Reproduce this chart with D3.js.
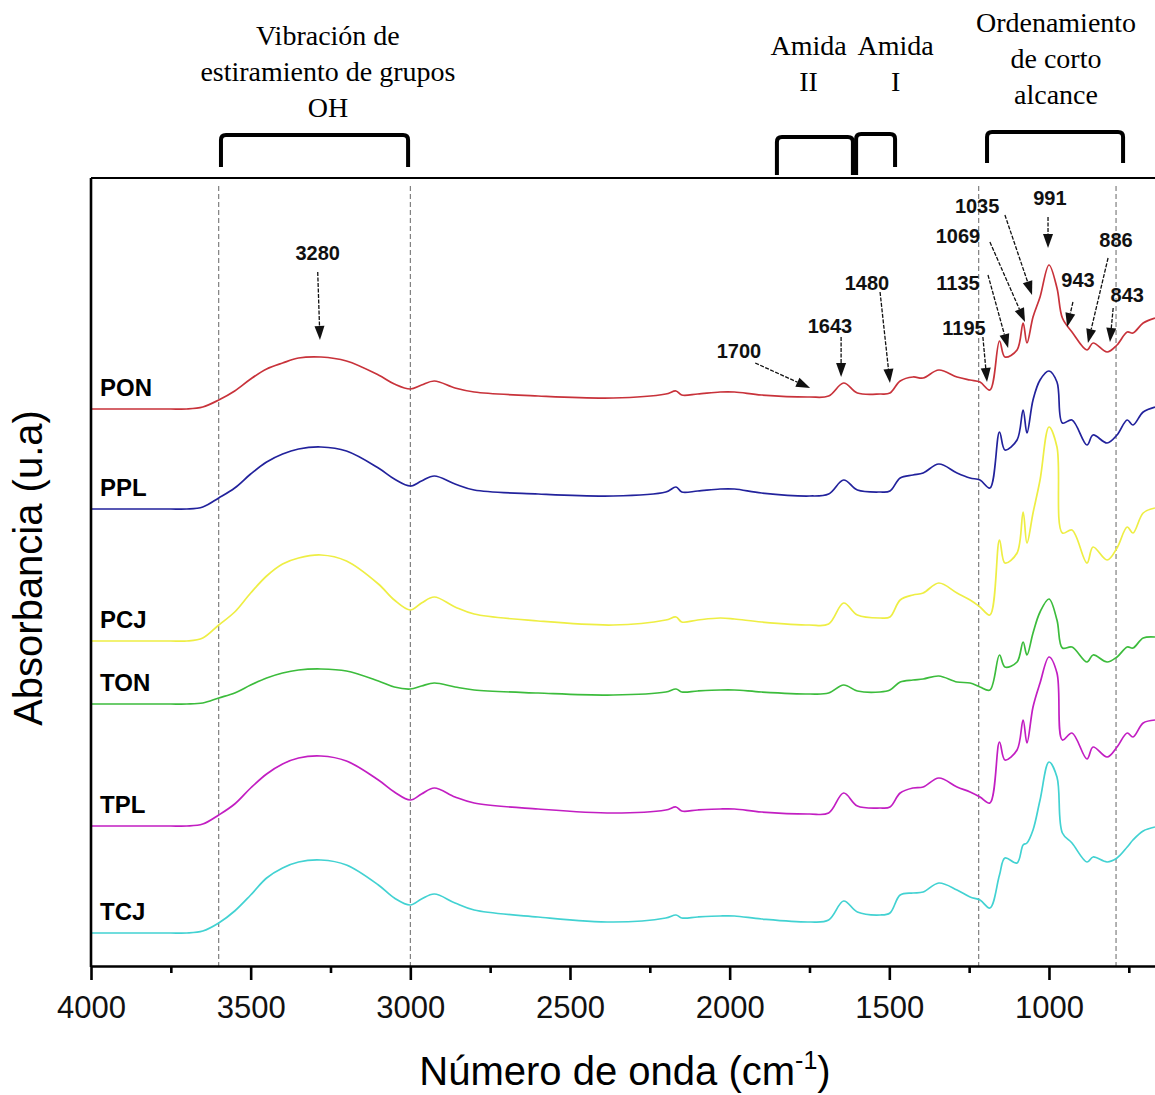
<!DOCTYPE html>
<html>
<head>
<meta charset="utf-8">
<script src="https://cdn.jsdelivr.net/npm/d3@7"></script>
<style>
 body{margin:0;background:#fff}
 svg{display:block}
</style>
</head>
<body>
<svg class="grafico" width="1155" height="1095"></svg>
<script>
/*DATOS - número de onda (cm-1) comunes a todos los espectros*/
const numeroOnda = [4000,3800,3750,3700,3650,3600,3550,3500,3450,3400,3350,3280,3200,3100,3050,3000,2965,2925,2860,2800,2600,2365,2200,2168,2150,2100,2030,1985,1900,1750,1690,1643,1600,1529,1498,1466,1426,1394,1345,1288,1247,1216,1185,1155,1138,1100,1081,1069,1050,1028,1000,975,958,928,881,862,818,787,755,737,705,668]

/*absorbancia (u.a) de cada muestra, ya desplazada*/
const PON = [5.57,5.57,5.57,5.57,5.59,5.66,5.75,5.87,5.97,6.03,6.08,6.09,6.05,5.91,5.82,5.77,5.81,5.85,5.78,5.74,5.70,5.68,5.72,5.75,5.71,5.72,5.74,5.74,5.71,5.69,5.70,5.83,5.73,5.72,5.73,5.85,5.89,5.88,5.96,5.89,5.86,5.84,5.76,6.25,6.09,6.16,6.43,6.23,6.49,6.69,7.01,6.78,6.48,6.34,6.16,6.23,6.14,6.21,6.34,6.33,6.43,6.48]
const PPL = [4.57,4.57,4.57,4.57,4.59,4.68,4.78,4.92,5.04,5.12,5.17,5.19,5.15,4.98,4.87,4.80,4.85,4.90,4.82,4.76,4.72,4.70,4.74,4.79,4.74,4.75,4.77,4.77,4.73,4.70,4.72,4.86,4.76,4.74,4.75,4.88,4.91,4.93,5.02,4.93,4.88,4.86,4.78,5.34,5.16,5.26,5.56,5.33,5.66,5.86,5.95,5.84,5.43,5.46,5.21,5.31,5.23,5.31,5.46,5.41,5.54,5.59]
const PCJ = [3.25,3.25,3.25,3.25,3.28,3.41,3.54,3.73,3.90,4.02,4.08,4.11,4.05,3.82,3.66,3.56,3.63,3.69,3.59,3.52,3.45,3.41,3.46,3.49,3.44,3.46,3.48,3.47,3.44,3.41,3.42,3.63,3.51,3.48,3.49,3.66,3.71,3.73,3.83,3.73,3.66,3.59,3.51,4.26,4.03,4.13,4.54,4.23,4.53,4.86,5.39,5.19,4.33,4.36,4.03,4.19,4.06,4.18,4.39,4.33,4.53,4.58]
const TON = [2.62,2.62,2.62,2.62,2.63,2.68,2.73,2.81,2.88,2.93,2.96,2.97,2.95,2.85,2.79,2.77,2.80,2.83,2.79,2.76,2.73,2.71,2.74,2.77,2.74,2.75,2.76,2.76,2.74,2.72,2.73,2.81,2.75,2.74,2.76,2.84,2.86,2.87,2.90,2.84,2.83,2.79,2.76,3.11,2.99,3.04,3.24,3.11,3.33,3.54,3.67,3.46,3.18,3.19,3.04,3.11,3.04,3.09,3.19,3.18,3.28,3.29]
const TPL = [1.40,1.40,1.40,1.40,1.42,1.51,1.62,1.78,1.92,2.02,2.08,2.10,2.05,1.86,1.74,1.66,1.72,1.78,1.69,1.63,1.57,1.53,1.56,1.59,1.55,1.56,1.57,1.57,1.54,1.52,1.53,1.73,1.60,1.58,1.59,1.73,1.78,1.79,1.88,1.79,1.74,1.69,1.63,2.24,2.06,2.16,2.46,2.23,2.59,2.83,3.09,2.93,2.26,2.33,2.07,2.19,2.09,2.19,2.33,2.29,2.43,2.46]
const TCJ = [0.33,0.33,0.33,0.33,0.35,0.43,0.55,0.71,0.88,0.98,1.04,1.06,1.01,0.81,0.68,0.61,0.67,0.72,0.63,0.56,0.49,0.44,0.48,0.51,0.48,0.49,0.50,0.50,0.47,0.44,0.46,0.65,0.54,0.51,0.53,0.71,0.73,0.74,0.83,0.76,0.69,0.66,0.58,0.91,1.08,1.03,1.21,1.23,1.36,1.66,2.04,1.89,1.33,1.23,1.04,1.09,1.04,1.08,1.19,1.26,1.35,1.39]

const nombres = ['PON','PPL','PCJ','TON','TPL','TCJ']
const espectros = [PON,PPL,PCJ,TON,TPL,TCJ]
const colores = ['#c8323a','#22229c','#eeee44','#3cbc3c','#c21ec2','#42d2d2']

/*ticks del eje x*/
const ticksMayores = [4000,3500,3000,2500,2000,1500,1000]
const ticksMenores = [3750,3250,2750,2250,1750,1250,750]

/*líneas guía punteadas (cm-1)*/
const lineasGuia = [3600,3000,1220,790]

/*picos marcados: texto, posición del texto, cola y punta de la flecha*/
const picos = [
 {t:'3280', lx:3290, ly:7.06, x0:3290, y0:6.94, x1:3283, y1:6.26},
 {t:'1700', lx:1971, ly:6.08, x0:1920, y0:6.03, x1:1748, y1:5.78},
 {t:'1643', lx:1686, ly:6.33, x0:1651, y0:6.29, x1:1651, y1:5.89},
 {t:'1480', lx:1570, ly:6.76, x0:1529, y0:6.74, x1:1498, y1:5.83},
 {t:'1195', lx:1266, ly:6.31, x0:1207, y0:6.29, x1:1194, y1:5.84},
 {t:'1135', lx:1285, ly:6.76, x0:1191, y0:6.91, x1:1128, y1:6.18},
 {t:'1069', lx:1285, ly:7.23, x0:1185, y0:7.24, x1:1075, y1:6.44},
 {t:'1035', lx:1225, ly:7.53, x0:1138, y0:7.51, x1:1053, y1:6.71},
 {t:'991',  lx:997,  ly:7.61, x0:1003, y0:7.49, x1:1003, y1:7.18},
 {t:'943',  lx:909,  ly:6.79, x0:925,  y0:6.64, x1:943,  y1:6.39},
 {t:'886',  lx:790,  ly:7.19, x0:815,  y0:7.08, x1:878,  y1:6.23},
 {t:'843',  lx:755,  ly:6.64, x0:799,  y0:6.58, x1:809,  y1:6.24}
]

/*regiones de arriba con su llave*/
const regiones = [
 {lineas:['Vibración de','estiramiento de grupos','OH'], cx:3258, desde:3593, hasta:3007},
 {lineas:['Amida','II'], cx:1753, desde:1852, hasta:1614},
 {lineas:['Amida','I'], cx:1480, desde:1604, hasta:1482},
 {lineas:['Ordenamiento','de corto','alcance'], cx:978, desde:1194, hasta:768}
]

/*MEDIDAS*/
const izq = 91, arriba = 178, abajo = 966, der = 1155

const x = d3.scaleLinear().domain([4000, 668]).range([izq, der])
const y = d3.scaleLinear().domain([0, 7.88]).range([abajo, arriba])

const svg = d3.select('.grafico')

/*líneas guía punteadas*/
svg.selectAll('.guia')
 .data(lineasGuia)
 .join('line')
 .attr('x1', d => x(d)).attr('x2', d => x(d))
 .attr('y1', arriba + 8).attr('y2', abajo)
 .attr('stroke', '#666')
 .attr('stroke-width', 1)
 .attr('stroke-dasharray', '5,3')

/*ESPECTROS*/
const linea = d3.line()
 .x((d, i) => x(numeroOnda[i]))
 .y(d => y(d))
 .curve(d3.curveCatmullRom.alpha(0.5))

svg.selectAll('.espectro')
 .data(espectros)
 .join('path')
 .attr('d', linea)
 .attr('fill', 'none')
 .attr('stroke', (d, i) => colores[i])
 .attr('stroke-width', 1.7)

/*nombre de cada muestra a la izquierda*/
svg.selectAll('.nombre')
 .data(espectros)
 .join('text')
 .attr('x', izq + 9)
 .attr('y', d => y(d[0]) - 13)
 .text((d, i) => nombres[i])
 .style('font', 'bold 24px "Liberation Sans", Arial, sans-serif')

/*EJES*/
const ejeX = svg.append('g')
 .attr('transform', `translate(0,${abajo})`)
 .call(d3.axisBottom(x).tickValues(ticksMayores).tickFormat(d3.format('d')).tickSize(14).tickSizeOuter(0).tickPadding(16))
ejeX.select('.domain').attr('stroke-width', 2.6)
ejeX.selectAll('.tick line').attr('stroke-width', 2.6)
ejeX.selectAll('text').style('font', '31px "Liberation Sans", Arial, sans-serif').attr('fill', '#111')

/*ticks menores*/
svg.append('g')
 .attr('transform', `translate(0,${abajo})`)
 .call(d3.axisBottom(x).tickValues(ticksMenores).tickSize(7).tickFormat(''))
 .call(g => g.select('.domain').remove())
 .selectAll('.tick line').attr('stroke-width', 2.6)

/*borde izquierdo y superior*/
svg.append('line').attr('x1', izq).attr('x2', izq).attr('y1', arriba).attr('y2', abajo + 1)
 .attr('stroke', '#000').attr('stroke-width', 2.6)
svg.append('line').attr('x1', izq).attr('x2', der).attr('y1', arriba).attr('y2', arriba)
 .attr('stroke', '#000').attr('stroke-width', 2.2)

/*títulos de ejes*/
const tituloX = svg.append('text')
 .attr('x', 625).attr('y', 1085)
 .attr('text-anchor', 'middle')
 .style('font', '40px "Liberation Sans", Arial, sans-serif')
tituloX.append('tspan').text('Número de onda (cm')
tituloX.append('tspan').text('-1').attr('dy', -16).style('font-size', '25px')
tituloX.append('tspan').text(')').attr('dy', 16)

svg.append('text')
 .attr('transform', 'translate(42,568) rotate(-90)')
 .attr('text-anchor', 'middle')
 .style('font', '40px "Liberation Sans", Arial, sans-serif')
 .text('Absorbancia (u.a)')

/*PICOS - flechas con texto*/
const flechas = svg.append('g')
picos.forEach(p => {
 const ax = x(p.x0), ay = y(p.y0), bx = x(p.x1), by = y(p.y1)
 const largo = Math.hypot(bx - ax, by - ay)
 const ux = (bx - ax) / largo, uy = (by - ay) / largo
 const cabeza = 14, ancho = 5
 const cx = bx - ux * cabeza, cy = by - uy * cabeza
 flechas.append('line')
  .attr('x1', ax).attr('y1', ay).attr('x2', cx).attr('y2', cy)
  .attr('stroke', '#111').attr('stroke-width', 1.3)
  .attr('stroke-dasharray', '4,1.5')
 flechas.append('path')
  .attr('d', `M${bx},${by}L${cx - uy * ancho},${cy + ux * ancho}L${cx + uy * ancho},${cy - ux * ancho}Z`)
  .attr('fill', '#111')
 flechas.append('text')
  .attr('x', x(p.lx)).attr('y', y(p.ly))
  .attr('text-anchor', 'middle')
  .style('font', 'bold 20px "Liberation Sans", Arial, sans-serif')
  .attr('fill', '#111')
  .text(p.t)
})

/*REGIONES DE ARRIBA - llaves y textos*/
const llaves = [
 {top:135, bi:167, bd:167, base:45},
 {top:137, bi:175, bd:175, base:55},
 {top:134, bi:175, bd:167, base:55},
 {top:132, bi:163, bd:163, base:32}
]
regiones.forEach((r, i) => {
 const l = llaves[i]
 const x0 = x(r.desde), x1 = x(r.hasta), rad = 5
 svg.append('path')
  .attr('d', `M${x0},${l.bi}V${l.top + rad}Q${x0},${l.top} ${x0 + rad},${l.top}H${x1 - rad}Q${x1},${l.top} ${x1},${l.top + rad}V${l.bd}`)
  .attr('fill', 'none').attr('stroke', '#000').attr('stroke-width', 4)
 svg.append('g').selectAll('text')
  .data(r.lineas)
  .join('text')
  .attr('x', x(r.cx))
  .attr('y', (d, k) => l.base + k * 36)
  .attr('text-anchor', 'middle')
  .style('font', '28px "Liberation Serif", "Times New Roman", serif')
  .text(d => d)
})
</script>
</body>
</html>
